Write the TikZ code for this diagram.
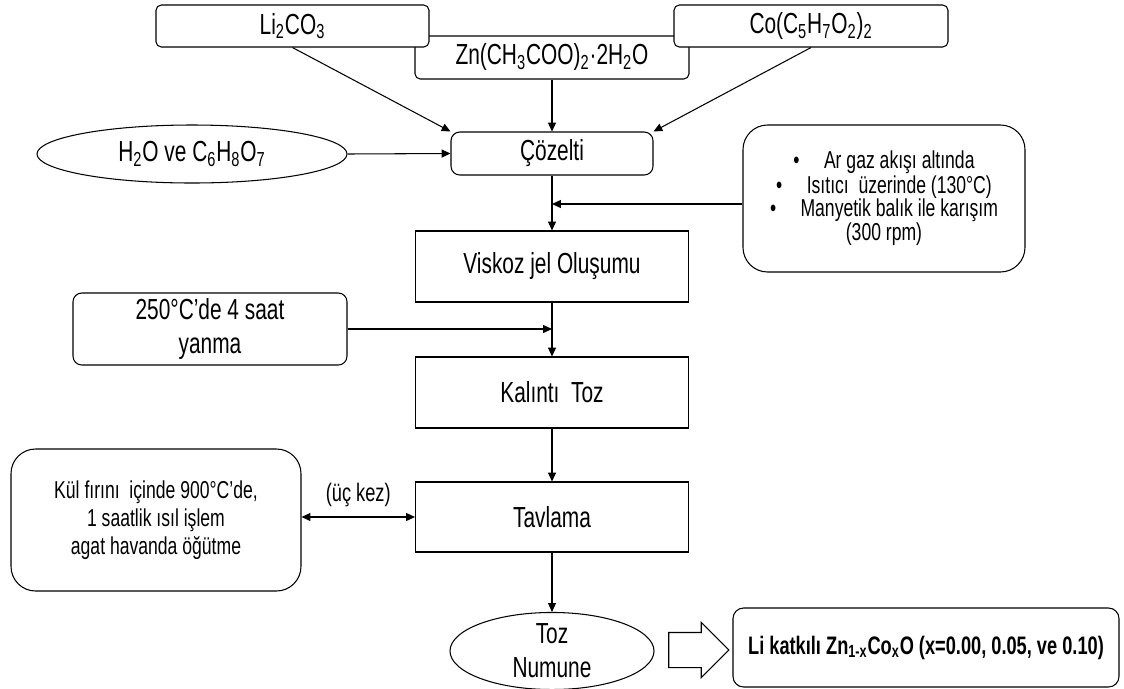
\documentclass[tikz,border=0pt]{standalone}
\usepackage{fontspec}
\setmainfont{Liberation Sans}[FakeStretch=0.72]
\usetikzlibrary{shapes.geometric, shapes.arrows, arrows.meta, positioning, calc}

\begin{document}
\begin{tikzpicture}[
    font=\fontsize{16.5}{19}\selectfont,
    rbox/.style={draw, fill=white, rounded corners=#1, align=center, line width=0.6pt, inner sep=2pt},
    rbox/.default=3pt,
    stage/.style={draw, fill=white, minimum width=5.46cm, minimum height=1.42cm, align=center, line width=0.6pt},
    oval/.style={draw, ellipse, fill=white, align=center, line width=0.6pt, inner sep=0pt},
    arrow/.style={-{Triangle[length=5pt,width=4.5pt]}, line width=0.6pt},
    darrow/.style={{Triangle[length=5pt,width=4.5pt]}-{Triangle[length=5pt,width=4.5pt]}, line width=0.6pt},
]
\useasboundingbox (0,0) rectangle (22.48,-13.76);
% Starting materials
\node[rbox, minimum width=5.48cm, minimum height=0.86cm, text depth=4pt] (zn) at (11.04,-1.15) {Zn(CH\textsubscript{3}COO)\textsubscript{2}·2H\textsubscript{2}O};
\node[rbox, minimum width=5.46cm, minimum height=0.84cm] (li) at (5.85,-0.52) {Li\textsubscript{2}CO\textsubscript{3}};
\node[rbox, minimum width=5.48cm, minimum height=0.84cm] (co) at (16.22,-0.52) {Co(C\textsubscript{5}H\textsubscript{7}O\textsubscript{2})\textsubscript{2}};
% Solution
\node[rbox=5pt, minimum width=4.04cm, minimum height=0.86cm] (coz) at (11.04,-3.07) {Çözelti};
\node[oval, minimum width=6.2cm, minimum height=1.16cm] (solv) at (3.84,-3.08) {H\textsubscript{2}O ve C\textsubscript{6}H\textsubscript{8}O\textsubscript{7}};
\node[rbox=14pt, minimum width=5.64cm, minimum height=2.94cm, font=\fontsize{13.9}{13}\selectfont] (cond) at (17.68,-3.97) {\textbullet\quad Ar gaz akışı altında\\ \textbullet\quad Isıtıcı\ \ üzerinde (130°C)\\ \textbullet\quad Manyetik balık ile karışım\\ (300\ rpm)};
\coordinate (condin) at (coz.south |- 0,-4.08);
% Gel and combustion
\node[stage] (gel) at (11.04,-5.33) {Viskoz jel Oluşumu};
\node[rbox=5pt, minimum width=5.48cm, minimum height=1.44cm, font=\fontsize{16.5}{19}\selectfont] (burn) at (4.2,-6.58) {250°C’de 4 saat\\yanma};
\node[stage] (res) at (11.04,-7.85) {Kalıntı\ \ Toz};
% Annealing
\node[stage, minimum height=1.40cm] (anneal) at (11.04,-10.34) {Tavlama};
\node[rbox=14pt, minimum width=5.8cm, minimum height=2.84cm, font=\fontsize{13.9}{14}\selectfont] (oven) at (3.12,-10.4) {Kül fırını\ \ içinde 900°C’de,\\[2pt]1 saatlik ısıl işlem\\[2pt]agat havanda öğütme};
% Product
\node[oval, minimum width=4.08cm, minimum height=1.42cm, font=\fontsize{16.5}{19.5}\selectfont] (powder) at (11.04,-13.02) {Toz\\Numune};
\node[draw, single arrow, single arrow head extend=0.2cm, minimum height=1.2cm, inner xsep=0pt, inner ysep=0.34cm, line width=0.6pt] (yields) at (13.8,-13.0) {};
\node[rbox=6pt, minimum width=7.72cm, minimum height=1.58cm, font=\bfseries\fontsize{14.4}{16}\selectfont] (final) at (18.52,-12.95) {Li katkılı Zn\textsubscript{1-x}Co\textsubscript{x}O (x=0.00, 0.05, ve 0.10)};
% Arrows
\draw[arrow] (li.south) -- (coz.north west);
\draw[arrow] (zn.south) -- (coz.north);
\draw[arrow] (co.south) -- (coz.north east);
\draw[arrow] (solv.east) -- (coz.west);
\draw[arrow] (coz.south) -- (gel.north);
\draw[arrow] (cond.west |- condin) -- (condin);
\draw[arrow] (gel.south) -- (res.north);
\draw[arrow] (burn.east) -- (burn.east -| gel.south);
\draw[arrow] (res.south) -- (anneal.north);
\draw[darrow] (oven.east |- anneal.west) -- node[above=2pt, font=\fontsize{14.4}{16}\selectfont] (times) {(üç kez)} (anneal.west);
\draw[arrow] (anneal.south) -- (powder.north);
\end{tikzpicture}
\end{document}
